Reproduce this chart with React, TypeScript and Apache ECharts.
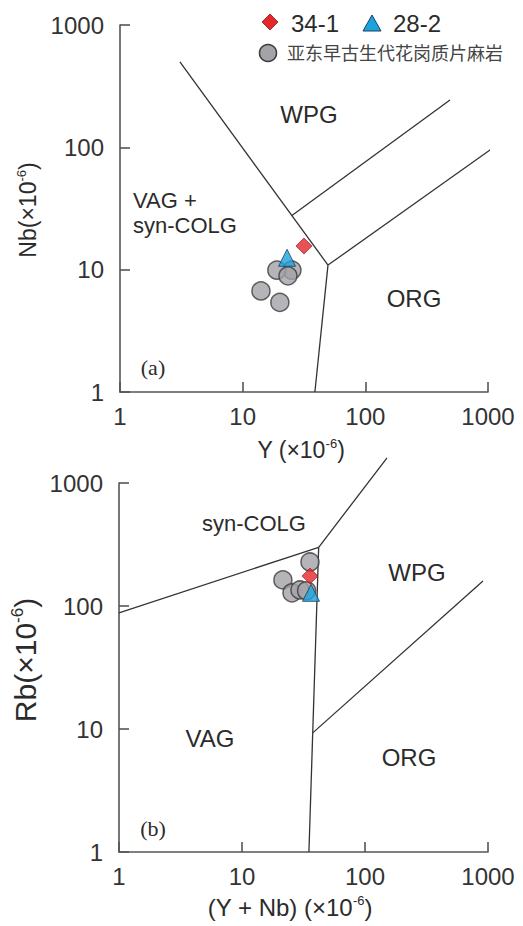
import React, { useEffect, useRef } from "react";
import * as echarts from "echarts";

// ---- Data ----
const axisRange = [1, 1000];

// (a) Nb vs Y
const a_34_1 = [[31.6, 15.6]];
const a_28_2 = [[23.0, 12.5]];
const a_granite = [
  [25.2, 9.9],
  [19.0, 9.9],
  [23.4, 8.9],
  [14.1, 6.7],
  [20.1, 5.4],
];
const a_lineVAG_WPG = [[3.08, 499], [49.6, 10.9]];
const a_lineWPG_upper = [[25.2, 27.7], [490, 244]];
const a_lineWPG_ORG = [[49.6, 10.9], [1100, 99]];
const a_lineVAG_ORG = [[49.6, 10.9], [38.8, 1]];

// (b) Rb vs (Y+Nb)
const b_34_1 = [[35.7, 175]];
const b_28_2 = [[36.4, 128]];
const b_granite = [
  [35.7, 228],
  [21.5, 163],
  [25.5, 128],
  [29.6, 135],
  [33.5, 133],
];
const b_lineSyn_VAG = [[1, 88], [42, 300]];
const b_lineSyn_WPG = [[42, 300], [151, 1600]];
const b_lineVAG_WPG = [[42, 300], [35, 1]];
const b_lineWPG_ORG = [[37.6, 9.3], [910, 160]];

const legendNames = ["34-1", "28-2", "亚东早古生代花岗质片麻岩"];

const FONT = "'Liberation Sans', Arial, sans-serif";
const RED = "#e5262a";
const BLUE = "#1ca3dd";
const GRAY = "#a3a3a8";

export default function App() {
  const ref = useRef<HTMLDivElement>(null);
  useEffect(() => {
    if (!ref.current) return;
    const chart = echarts.init(ref.current, null, { renderer: "svg" });

    const axisCommon = (gridIndex: number, isY: boolean) => ({
      type: "log",
      logBase: 10,
      gridIndex,
      min: axisRange[0],
      max: axisRange[1],
      splitLine: { show: false },
      minorTick: { show: false },
      axisLine: { show: true, lineStyle: { color: "#555", width: 1.6 } },
      axisTick: { show: true, inside: true, length: 10, lineStyle: { color: "#555", width: 1.6 } },
      axisLabel: {
        fontSize: 24,
        color: "#333",
        fontFamily: FONT,
        margin: isY ? 16 : 12,
        showMinLabel: true,
        showMaxLabel: true,
        formatter: (v: number) => String(Math.round(v)),
      },
    });

    const boundary = (data: number[][], idx: number) => ({
      type: "line",
      data,
      xAxisIndex: idx,
      yAxisIndex: idx,
      symbol: "none",
      showSymbol: false,
      silent: true,
      clip: false,
      z: 1,
      lineStyle: { color: "#333", width: 1.3 },
    });

    const graniteStyle = { color: GRAY, borderColor: "#3c3c3c", borderWidth: 1.5 };
    const triStyle = { color: BLUE, borderColor: "#1d3f5e", borderWidth: 1 };
    const diaStyle = { color: RED, borderColor: "#8a1515", borderWidth: 0.8 };

    const scatter = (name: string, data: number[][], idx: number, symbol: string, size: number, style: any, z: number) => ({
      type: "scatter",
      name,
      data,
      xAxisIndex: idx,
      yAxisIndex: idx,
      symbol,
      symbolSize: size,
      itemStyle: style,
      z,
    });

    const text = (t: string, x: number, y: number, size: number, extra: any = {}) => ({
      type: "text",
      x,
      y,
      z: 10,
      style: {
        text: t,
        fontSize: size,
        fontFamily: FONT,
        fill: "#2b2b2b",
        textAlign: "center",
        textVerticalAlign: "middle",
        ...extra,
      },
    });

    const supTitle = (pre: string, x: number, y: number, size: number, rot = 0) => ({
      type: "text",
      x,
      y,
      rotation: rot,
      z: 10,
      style: {
        text: `{n|${pre}}{s|-6}{n|)}`,
        textAlign: "center",
        textVerticalAlign: "middle",
        rich: {
          n: { fontSize: size, fontFamily: FONT, fill: "#2b2b2b", lineHeight: size * 1.1 },
          s: { fontSize: Math.round(size * 0.55), fontFamily: FONT, fill: "#2b2b2b", verticalAlign: "top", lineHeight: Math.round(size * 0.55) },
        },
      },
    });

    chart.setOption({
      animation: false,
      backgroundColor: "#fff",
      grid: [
        { left: 120, top: 25, width: 368, height: 367, containLabel: false },
        { left: 119, top: 483, width: 369, height: 369, containLabel: false },
      ],
      xAxis: [axisCommon(0, false), axisCommon(1, false)],
      yAxis: [axisCommon(0, true), axisCommon(1, true)],
      series: [
        boundary(a_lineVAG_WPG, 0),
        boundary(a_lineWPG_upper, 0),
        boundary(a_lineWPG_ORG, 0),
        boundary(a_lineVAG_ORG, 0),
        boundary(b_lineSyn_VAG, 1),
        boundary(b_lineSyn_WPG, 1),
        boundary(b_lineVAG_WPG, 1),
        boundary(b_lineWPG_ORG, 1),
        scatter(legendNames[2], a_granite, 0, "circle", 18, graniteStyle, 3),
        scatter(legendNames[1], a_28_2, 0, "triangle", 17, triStyle, 4),
        scatter(legendNames[0], a_34_1, 0, "diamond", 16, diaStyle, 5),
        scatter(legendNames[2], b_granite, 1, "circle", 18, graniteStyle, 3),
        scatter(legendNames[0], b_34_1, 1, "diamond", 16, diaStyle, 4),
        scatter(legendNames[1], b_28_2, 1, "triangle", 17, triStyle, 5),
      ],
      graphic: [
        // legend
        { type: "polygon", z: 10, shape: { points: [[270, 14], [278, 22], [270, 30], [262, 22]] }, style: { fill: RED, stroke: "#8a1515", lineWidth: 0.8 } },
        text(legendNames[0], 291, 23, 24, { textAlign: "left" }),
        { type: "polygon", z: 10, shape: { points: [[372, 15], [381, 31], [363, 31]] }, style: { fill: BLUE, stroke: "#1d3f5e", lineWidth: 1 } },
        text(legendNames[1], 393, 23, 24, { textAlign: "left" }),
        { type: "circle", z: 10, shape: { cx: 268, cy: 53, r: 8.5 }, style: { fill: GRAY, stroke: "#3c3c3c", lineWidth: 1.5 } },
        text(legendNames[2], 287, 52, 18, { textAlign: "left", fontFamily: "'Noto Sans CJK SC', sans-serif", fill: "#444" }),
        // axis titles
        supTitle("Nb(×10", 28, 210, 23, Math.PI / 2),
        supTitle("Y (×10", 301, 450, 23),
        supTitle("Rb(×10", 25, 660, 30, Math.PI / 2),
        supTitle("(Y + Nb) (×10", 290, 907, 24),
        // field labels (a)
        text("WPG", 309, 114, 24),
        text("VAG +", 133, 200, 22, { textAlign: "left" }),
        text("syn-COLG", 133, 225, 22, { textAlign: "left" }),
        text("ORG", 414, 298, 24),
        text("(a)", 153, 367, 22, { fontFamily: "'Liberation Serif', 'DejaVu Serif', serif" }),
        // field labels (b)
        text("syn-COLG", 254, 523, 22),
        text("WPG", 417, 572, 24),
        text("VAG", 210, 738, 24),
        text("ORG", 409, 757, 24),
        text("(b)", 153, 828, 22, { fontFamily: "'Liberation Serif', 'DejaVu Serif', serif" }),
      ],
    });

    return () => chart.dispose();
  }, []);

  return (
    <div
      ref={ref}
      style={{ position: "absolute", left: 0, top: 0, width: 523, height: 926 }}
    />
  );
}
